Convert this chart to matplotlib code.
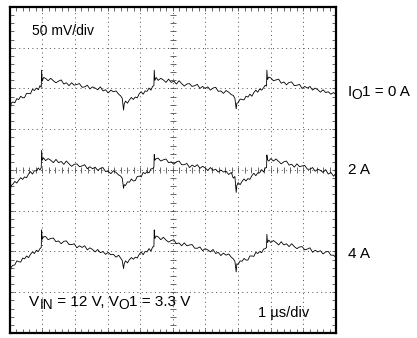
import numpy as np
import matplotlib
matplotlib.use("Agg")
import matplotlib.pyplot as plt

plt.rcParams['font.family'] = ['Liberation Sans', 'DejaVu Sans']

# time axis, 1 us/div
t_us = [0.00, 0.02, 0.05, 0.10, 0.16, 0.22, 0.28, 0.34, 0.40, 0.46, 0.52, 0.58, 0.64, 0.70, 0.76, 0.82, 0.88, 0.93, 0.97, 0.98, 1.00, 1.04,
        1.10, 1.18, 1.26, 1.34, 1.42, 1.50, 1.58, 1.66, 1.74, 1.82, 1.90, 1.98, 2.06, 2.14, 2.22, 2.30, 2.38, 2.46, 2.54, 2.62, 2.70, 2.78, 2.86, 2.94, 3.02, 3.10, 3.18, 3.26, 3.34, 3.40, 3.45, 3.49,
        3.51, 3.55, 3.61, 3.67, 3.73, 3.79, 3.85, 3.91, 3.97, 4.03, 4.09, 4.15, 4.21, 4.27, 4.33, 4.38, 4.42, 4.43, 4.45, 4.49,
        4.55, 4.63, 4.71, 4.79, 4.87, 4.95, 5.03, 5.11, 5.19, 5.27, 5.35, 5.43, 5.51, 5.59, 5.67, 5.75, 5.83, 5.91, 5.99, 6.07, 6.15, 6.23, 6.31, 6.39, 6.47, 6.55, 6.63, 6.71, 6.79, 6.85, 6.90, 6.94,
        6.96, 7.00, 7.06, 7.12, 7.18, 7.24, 7.30, 7.36, 7.42, 7.48, 7.54, 7.60, 7.66, 7.72, 7.78, 7.83, 7.87, 7.88, 7.90, 7.94,
        8.00, 8.08, 8.16, 8.24, 8.32, 8.40, 8.48, 8.56, 8.64, 8.72, 8.80, 8.88, 8.96, 9.04, 9.12, 9.20, 9.28, 9.36, 9.44, 9.52, 9.60, 9.68, 9.76, 9.84, 9.92, 10.00]

# traces in screen divisions (50 mV/div)
io_0a = [5.88, 5.50, 5.64, 5.67, 5.65, 5.75, 5.73, 5.81, 5.77, 5.78, 5.88, 5.88, 5.87, 5.98, 5.95, 6.01, 5.97, 6.07, 6.03, 6.45, 6.18, 6.27,
         6.25, 6.19, 6.25, 6.19, 6.14, 6.18, 6.21, 6.11, 6.14, 6.07, 6.14, 6.08, 6.10, 6.12, 6.03, 6.04, 6.08, 5.99, 6.04, 6.01, 5.97, 6.04, 5.94, 5.97, 5.89, 5.96, 5.92, 5.94, 5.86, 5.82, 5.76, 5.47,
         5.62, 5.69, 5.64, 5.72, 5.78, 5.73, 5.79, 5.77, 5.87, 5.92, 5.86, 5.94, 5.93, 6.01, 5.96, 6.05, 6.07, 6.45, 6.20, 6.27,
         6.20, 6.25, 6.21, 6.15, 6.23, 6.15, 6.18, 6.11, 6.19, 6.12, 6.06, 6.11, 6.12, 6.05, 6.07, 6.10, 6.00, 6.05, 6.00, 6.04, 5.96, 6.01, 6.03, 5.93, 5.94, 5.88, 5.95, 5.91, 5.85, 5.83, 5.76, 5.50,
         5.64, 5.65, 5.74, 5.73, 5.72, 5.81, 5.79, 5.86, 5.81, 5.90, 5.96, 5.91, 5.99, 5.96, 6.02, 6.08, 6.06, 6.45, 6.22, 6.28,
         6.26, 6.19, 6.21, 6.23, 6.13, 6.16, 6.09, 6.15, 6.16, 6.07, 6.08, 6.10, 6.00, 6.05, 6.01, 6.05, 5.96, 6.01, 5.97, 5.91, 5.97, 5.90, 5.92, 5.86, 5.90, 5.85]

io_2a = [3.80, 3.52, 3.62, 3.65, 3.72, 3.68, 3.75, 3.81, 3.77, 3.83, 3.81, 3.90, 3.96, 3.90, 3.98, 3.98, 4.05, 4.00, 4.06, 4.48, 4.24, 4.30,
         4.23, 4.28, 4.24, 4.18, 4.26, 4.18, 4.21, 4.14, 4.22, 4.15, 4.09, 4.14, 4.15, 4.08, 4.10, 4.13, 4.03, 4.08, 4.03, 4.07, 3.99, 4.04, 4.06, 3.96, 3.97, 3.91, 3.98, 3.94, 3.88, 3.85, 3.80, 3.55,
         3.64, 3.62, 3.71, 3.70, 3.78, 3.73, 3.74, 3.84, 3.85, 3.83, 3.94, 3.91, 3.96, 3.93, 4.03, 4.03, 4.07, 4.38, 4.24, 4.28,
         4.29, 4.22, 4.25, 4.27, 4.18, 4.20, 4.14, 4.20, 4.22, 4.13, 4.13, 4.16, 4.06, 4.12, 4.08, 4.13, 4.04, 4.09, 4.05, 3.99, 4.06, 3.99, 4.02, 3.95, 4.00, 3.95, 3.97, 3.89, 3.94, 3.80, 3.84, 3.45,
         3.62, 3.69, 3.64, 3.72, 3.78, 3.73, 3.79, 3.77, 3.86, 3.92, 3.86, 3.93, 3.93, 4.01, 3.95, 4.05, 4.06, 4.37, 4.25, 4.22,
         4.28, 4.22, 4.27, 4.21, 4.15, 4.20, 4.22, 4.12, 4.14, 4.07, 4.15, 4.08, 4.10, 4.11, 4.02, 4.02, 4.06, 3.97, 4.02, 3.99, 3.94, 4.01, 3.90, 3.94, 3.85, 3.92]

io_4a = [1.75, 1.52, 1.62, 1.66, 1.67, 1.77, 1.75, 1.74, 1.84, 1.82, 1.89, 1.85, 1.93, 1.99, 1.95, 2.03, 2.00, 2.07, 2.10, 2.53, 2.30, 2.36,
         2.37, 2.29, 2.32, 2.33, 2.24, 2.26, 2.19, 2.25, 2.26, 2.17, 2.17, 2.19, 2.09, 2.14, 2.10, 2.14, 2.04, 2.09, 2.05, 1.99, 2.05, 1.97, 2.00, 1.93, 1.98, 1.92, 1.93, 1.86, 1.91, 1.84, 1.78, 1.58,
         1.70, 1.77, 1.72, 1.80, 1.85, 1.81, 1.86, 1.84, 1.93, 1.99, 1.92, 2.00, 1.99, 2.07, 2.01, 2.11, 2.12, 2.53, 2.32, 2.38,
         2.36, 2.29, 2.35, 2.28, 2.23, 2.27, 2.29, 2.19, 2.21, 2.14, 2.21, 2.14, 2.16, 2.17, 2.08, 2.08, 2.11, 2.02, 2.07, 2.04, 1.99, 2.05, 1.95, 1.98, 1.90, 1.96, 1.91, 1.94, 1.86, 1.82, 1.76, 1.50,
         1.70, 1.68, 1.77, 1.76, 1.83, 1.79, 1.79, 1.89, 1.89, 1.88, 1.98, 1.95, 2.00, 1.97, 2.06, 2.07, 2.10, 2.42, 2.22, 2.28,
         2.22, 2.27, 2.22, 2.16, 2.24, 2.16, 2.19, 2.12, 2.19, 2.12, 2.07, 2.11, 2.12, 2.04, 2.06, 2.09, 1.98, 2.03, 1.99, 2.02, 1.94, 1.99, 2.00, 1.91, 1.91, 1.85]

label_y = [5.92, 4.0, 1.95]


def chain(ax, x, y, parts, fs=11):
    # parts: (text, size factor, baseline shift in points)
    prev = ax.text(x, y, parts[0][0], fontsize=fs * parts[0][1], va='center', ha='left', clip_on=False)
    last_dy = parts[0][2]
    for s, k, dy in parts[1:]:
        prev = ax.annotate(s, xy=(1, 0), xycoords=prev, xytext=(0, dy - last_dy),
                           textcoords='offset points', fontsize=fs * k, va='bottom', ha='left')
        last_dy = dy
    return prev


fig = plt.figure(figsize=(4.17, 3.38), dpi=100)
ax = fig.add_axes([0.023, 0.0148, 0.783, 0.9645])
ax.set_xlim(0, 10)
ax.set_ylim(0, 8)

# graticule
for gx in range(1, 10):
    ax.axvline(gx, color='0.3', lw=0.7, ls=(0, (1, 3.5)), zorder=1)
for gy in range(1, 8):
    ax.axhline(gy, color='0.3', lw=0.7, ls=(0, (1, 3.5)), zorder=1)
minor_x = np.arange(0.2, 10, 0.2)
minor_y = np.arange(0.2, 8, 0.2)
ax.plot(minor_x, np.full_like(minor_x, 4), ls='none', marker='|', ms=4, mew=0.6, color='0.3', zorder=1)
ax.plot(np.full_like(minor_y, 5), minor_y, ls='none', marker='_', ms=4, mew=0.6, color='0.3', zorder=1)

ax.set_xticks(np.arange(0, 10.01, 0.2))
ax.set_yticks(np.arange(0, 8.01, 0.2))
ax.tick_params(direction='in', length=3, width=0.6, colors='0.3', top=True, right=True,
               labelbottom=False, labelleft=False)
for s in ax.spines.values():
    s.set_linewidth(1.6)

for v in [io_0a, io_2a, io_4a]:
    ax.plot(t_us, v, color='black', lw=0.6, zorder=3)

ax.text(0.68, 7.4, '50 mV/div', fontsize=10, va='center', ha='left')
ax.text(7.6, 0.5, '1 µs/div', fontsize=10.5, va='center', ha='left')
chain(ax, 0.6, 0.75, [('V', 1, 0), ('IN', 0.9, -2.2), (' = 12 V, V', 1, 0), ('O', 0.9, -2.2), ('1 = 3.3 V', 1, 0)])

chain(ax, 10.35, label_y[0], [('I', 1, 0), ('O', 0.9, -2.2), ('1 = 0 A', 1, 0)])
ax.text(10.35, label_y[1], '2 A', fontsize=11, va='center', ha='left', clip_on=False)
ax.text(10.35, label_y[2], '4 A', fontsize=11, va='center', ha='left', clip_on=False)

fig.savefig('out.png', dpi=100, facecolor='white')
